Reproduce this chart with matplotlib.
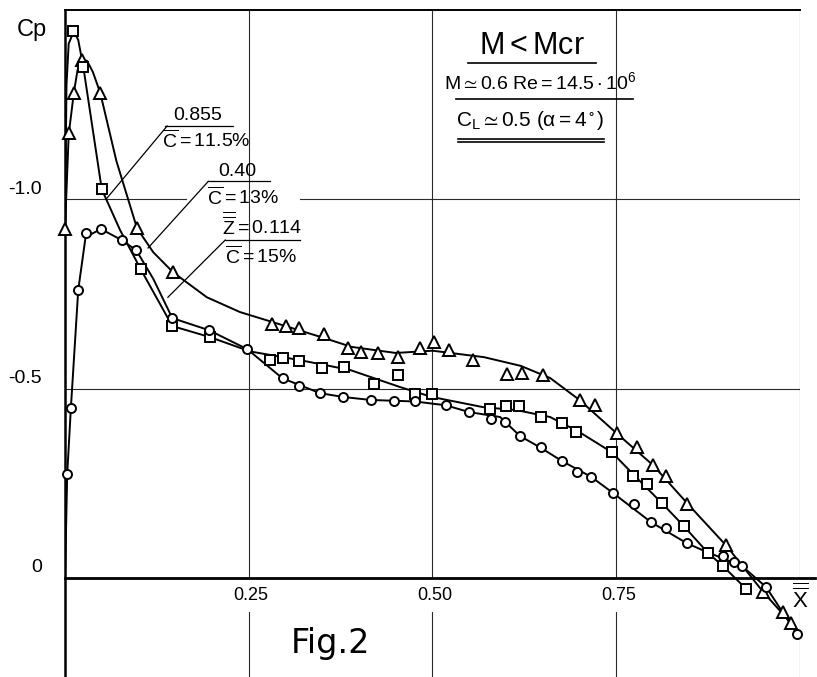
import numpy as np
import matplotlib
matplotlib.use('Agg')
import matplotlib.pyplot as plt

plt.rcParams['font.family'] = ['Liberation Sans', 'DejaVu Sans']
plt.rcParams['mathtext.fontset'] = 'custom'
plt.rcParams['mathtext.rm'] = 'Liberation Sans'
plt.rcParams['mathtext.it'] = 'Liberation Sans:italic'
plt.rcParams['mathtext.default'] = 'regular'

W, H = 817, 677

## --- measured points (x/c, Cp) read off the figure ---
# triangles : 0.40, C=13%
x_tri = [0.0, 0.005, 0.012, 0.023, 0.048, 0.098, 0.147, 0.282, 0.301, 0.318, 0.352, 0.385,
         0.403, 0.426, 0.453, 0.483, 0.502, 0.522, 0.555, 0.601, 0.622, 0.650, 0.701, 0.721,
         0.751, 0.778, 0.800, 0.818, 0.846, 0.899, 0.950, 0.977, 0.988]
cp_tri = [-0.921, -1.174, -1.280, -1.367, -1.280, -0.923, -0.807, -0.670, -0.665, -0.660, -0.644, -0.607,
          -0.596, -0.594, -0.583, -0.607, -0.623, -0.602, -0.575, -0.538, -0.541, -0.536, -0.470, -0.456,
          -0.383, -0.346, -0.298, -0.269, -0.195, -0.087, 0.037, 0.090, 0.119]

# squares : 0.855, C=11.5%
x_sq = [0.011, 0.025, 0.050, 0.103, 0.146, 0.197, 0.279, 0.297, 0.318, 0.350, 0.380, 0.420,
        0.453, 0.476, 0.499, 0.578, 0.600, 0.618, 0.648, 0.676, 0.695, 0.744, 0.773, 0.792,
        0.812, 0.842, 0.875, 0.895, 0.927]
cp_sq = [-1.443, -1.348, -1.026, -0.815, -0.665, -0.636, -0.575, -0.580, -0.573, -0.554, -0.557, -0.512,
         -0.536, -0.486, -0.485, -0.446, -0.454, -0.454, -0.425, -0.409, -0.385, -0.332, -0.269, -0.248,
         -0.198, -0.137, -0.066, -0.032, 0.029]

# circles : Z=0.114, C=15%
x_ci = [0.003, 0.008, 0.018, 0.028, 0.049, 0.077, 0.097, 0.146, 0.196, 0.248, 0.296, 0.318,
        0.347, 0.378, 0.416, 0.448, 0.476, 0.518, 0.550, 0.580, 0.599, 0.619, 0.648, 0.676,
        0.696, 0.716, 0.746, 0.774, 0.797, 0.818, 0.846, 0.895, 0.910, 0.921, 0.954, 0.996]
cp_ci = [-0.274, -0.449, -0.760, -0.910, -0.921, -0.892, -0.865, -0.686, -0.654, -0.604, -0.527, -0.507,
         -0.488, -0.478, -0.470, -0.467, -0.467, -0.456, -0.438, -0.420, -0.412, -0.375, -0.346, -0.309,
         -0.280, -0.267, -0.224, -0.195, -0.148, -0.132, -0.092, -0.058, -0.042, -0.032, 0.024, 0.148]

## --- faired curves drawn through the points ---
xf_tri = [0.0, 0.005, 0.012, 0.017, 0.023, 0.030, 0.038, 0.048, 0.070, 0.098, 0.120, 0.147, 0.193,
          0.238, 0.300, 0.350, 0.390, 0.450, 0.500, 0.570, 0.620, 0.660, 0.700, 0.750, 0.800,
          0.850, 0.900, 0.950, 1.0]
cpf_tri = [-0.92, -1.17, -1.28, -1.34, -1.367, -1.365, -1.335, -1.28, -1.10, -0.923, -0.86, -0.807, -0.741,
           -0.702, -0.665, -0.635, -0.610, -0.594, -0.600, -0.583, -0.560, -0.528, -0.470, -0.383, -0.298,
           -0.190, -0.085, 0.037, 0.145]

xf_sq = [0.0, 0.002, 0.005, 0.012, 0.018, 0.025, 0.050, 0.075, 0.103, 0.146, 0.197, 0.252, 0.320,
         0.388, 0.456, 0.499, 0.569, 0.615, 0.660, 0.700, 0.744, 0.775, 0.812, 0.842, 0.875,
         0.895, 0.927]
cpf_sq = [-0.92, -1.30, -1.41, -1.443, -1.42, -1.348, -1.026, -0.918, -0.815, -0.665, -0.636, -0.598, -0.575,
          -0.549, -0.504, -0.478, -0.451, -0.443, -0.425, -0.385, -0.332, -0.270, -0.198, -0.137, -0.066,
          -0.032, 0.029]

xf_ci = [0.0, 0.003, 0.008, 0.018, 0.028, 0.049, 0.077, 0.097, 0.120, 0.146, 0.196, 0.248, 0.296,
         0.347, 0.378, 0.416, 0.476, 0.518, 0.550, 0.592, 0.619, 0.648, 0.676, 0.716, 0.746,
         0.797, 0.846, 0.873, 0.921, 0.954, 0.996]
cpf_ci = [0.0, -0.274, -0.449, -0.760, -0.900, -0.921, -0.892, -0.865, -0.790, -0.686, -0.654, -0.604, -0.527,
          -0.488, -0.478, -0.470, -0.466, -0.456, -0.438, -0.425, -0.375, -0.343, -0.309, -0.267, -0.224,
          -0.148, -0.092, -0.069, -0.032, 0.024, 0.148]

x_ticks = [0.25, 0.50, 0.75]
x_tick_labels = ['0.25', '0.50', '0.75']
y_ticks = [-1.0, -0.5, 0.0]
y_tick_labels = ['-1.0', '-0.5', '0']


def fx(px):
    return px / W


def fy(py):
    return 1 - py / H


fig = plt.figure(figsize=(W / 100, H / 100), dpi=100)
ax = fig.add_axes([fx(65), 0, fx(800) - fx(65), fy(10)])
ax.set_xlim(0, 1.0)
ax.set_ylim(0.261, -1.499)

for s in ['bottom', 'right']:
    ax.spines[s].set_visible(False)
ax.spines['left'].set_linewidth(1.8)
ax.spines['top'].set_linewidth(1.4)
ax.set_xticks([])
ax.set_yticks([])

# grid (broken where the labels sit)
gk = dict(color='#2a2a2a', lw=0.8, zorder=1)
ax.plot([0, 0.164], [-1.0, -1.0], **gk)
ax.plot([0.320, 1.0], [-1.0, -1.0], **gk)
ax.plot([0, 1.0], [-0.5, -0.5], **gk)
for g in x_ticks + [1.0]:
    ax.plot([g, g], [-1.499, 0.0], **gk)
    ax.plot([g, g], [0.09, 0.261], **gk)
ax.plot([0, 1.02], [0, 0], color='black', lw=2.0, clip_on=False, zorder=2)

# curves and points
kw = dict(color='black', lw=1.4, zorder=3)
ax.plot(xf_tri, cpf_tri, **kw)
ax.plot(xf_sq, cpf_sq, **kw)
ax.plot(xf_ci, cpf_ci, **kw)
mk = dict(linestyle='none', mfc='white', mec='black', mew=1.4, zorder=4, clip_on=False)
ax.plot(x_tri, cp_tri, marker='^', ms=8, **mk)
ax.plot(x_sq, cp_sq, marker='s', ms=7, **mk)
ax.plot(x_ci, cp_ci, marker='o', ms=6.5, **mk)

# tick labels
for xv, lab in zip(x_ticks, x_tick_labels):
    ax.text(xv + 0.003, 0.045, lab, ha='center', va='center', fontsize=13, zorder=5)
for yv, lab in zip(y_ticks, y_tick_labels):
    fig.text(fx(42), fy(578 + yv * 379 - 10), lab, ha='right', va='center', fontsize=14)
ax.text(1.0, 0.055, r'$\overline{\overline{X}}$', ha='center', va='center', fontsize=16, zorder=5)
fig.text(fx(32), fy(30), 'Cp', ha='center', va='center', fontsize=17)

# series labels with leader lines
lab_kw = dict(ha='center', va='center', fontsize=14)
fig.text(fx(198), fy(116), '0.855', **lab_kw)
fig.text(fx(206), fy(140), r'$\overline{C}=11.5\%$', **lab_kw)
fig.text(fx(237), fy(171), '0.40', **lab_kw)
fig.text(fx(243), fy(197), r'$\overline{C}=13\%$', **lab_kw)
fig.text(fx(262), fy(225), r'$\overline{\overline{Z}}=0.114$', **lab_kw)
fig.text(fx(261), fy(256), r'$\overline{C}=15\%$', **lab_kw)

ln = dict(color='black', lw=0.9, zorder=2)
ax.plot([0.136, 0.229], [-1.193, -1.193], **ln)
ax.plot([0.139, 0.056], [-1.193, -1.0], **ln)
ax.plot([0.195, 0.279], [-1.047, -1.047], **ln)
ax.plot([0.195, 0.113], [-1.047, -0.871], **ln)
ax.plot([0.218, 0.320], [-0.892, -0.892], **ln)
ax.plot([0.218, 0.140], [-0.892, -0.741], **ln)

# condition block
fig.text(fx(532), fy(46), r'$M<Mcr$', ha='center', va='center', fontsize=22)
fig.text(fx(540), fy(82), r'$M\simeq0.6\ Re=14.5\cdot10^6$', ha='center', va='center', fontsize=14)
fig.text(fx(530), fy(121), r'$C_L\simeq0.5\ (\alpha=4^\circ)$', ha='center', va='center', fontsize=15)
for y0, x0, x1 in [(63, 468, 596), (99, 456, 633), (139, 458, 604), (142, 458, 604)]:
    fig.add_artist(plt.Line2D([fx(x0), fx(x1)], [fy(y0), fy(y0)], color='black', lw=1.2))

fig.text(fx(330), fy(643), 'Fig.2', ha='center', va='center', fontsize=24,
         family=['DejaVu Sans'])

fig.savefig('out.png', dpi=100)
